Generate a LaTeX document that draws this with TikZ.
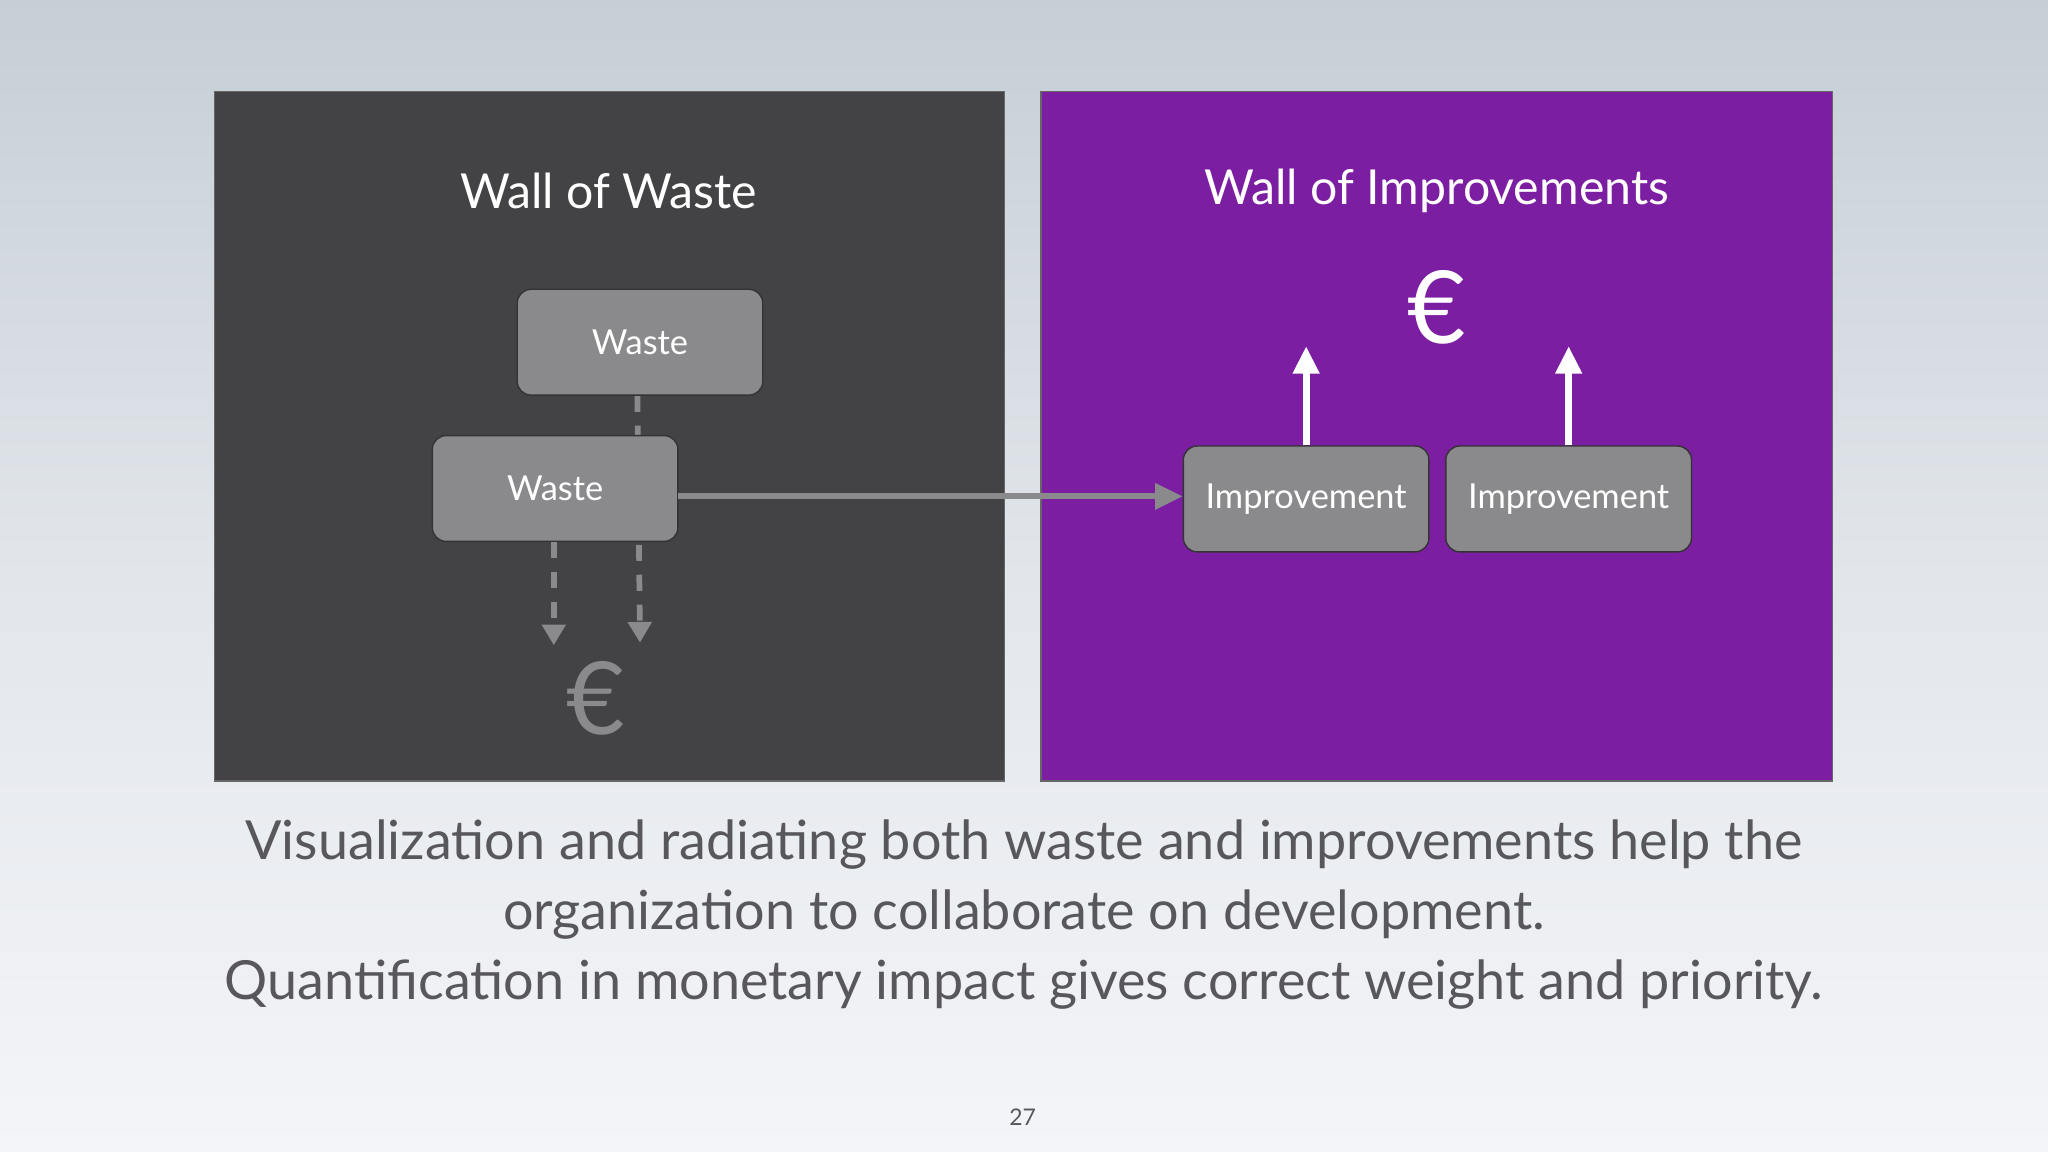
\documentclass[tikz,border=0pt]{standalone}
\usepackage{fontspec}
\setmainfont{Lato}
\usetikzlibrary{arrows.meta}
\definecolor{wallgray}{RGB}{67,67,69}
\definecolor{wallpurple}{RGB}{123,30,161}
\definecolor{boxgray}{RGB}{138,138,140}
\definecolor{capgray}{RGB}{88,88,92}
\tikzset{
  wbox/.style={draw=black!80,fill=boxgray,rounded corners=6pt,minimum width=188*0.02cm,minimum height=81*0.02cm,text=white,font=\fontsize{15}{18}\selectfont,line width=0.6pt},
  dashline/.style={draw=boxgray,dashed,dash pattern=on 7pt off 6pt,line width=2.5pt,-{Triangle[length=9pt,width=10pt]}},
}
\begin{document}
\begin{tikzpicture}[x=0.02cm,y=-0.02cm]
\shade[top color={rgb,255:red,198;green,206;blue,214},bottom color={rgb,255:red,244;green,245;blue,248},middle color={rgb,255:red,226;green,230;blue,235}] (0,0) rectangle (1568,882);
\useasboundingbox (0,0) rectangle (1568,882);
\fill[wallgray] (164,70) rectangle (769,598);
\draw[black!60,line width=0.5pt] (164,70) rectangle (769,598);
\fill[wallpurple] (797,70) rectangle (1403,598);
\draw[black!60,line width=0.5pt] (797,70) rectangle (1403,598);
\node[text=white,font=\fontsize{21}{26}\selectfont] (t1) at (466,146) {Wall of Waste};
\node[text=white,font=\fontsize{21}{26}\selectfont] (t2) at (1100,146) {Wall of Improvements};
\coordinate (d1s) at (488,303);
\coordinate (d1e) at (490,492);
\draw[dashline] (d1s) -- (d1e);
\node[wbox] (w1) at (490,262) {Waste};
\node[wbox] (w2) at (425,374) {Waste};
\coordinate (d2e) at (424,494);
\draw[dashline] (w2.south -| d2e) -- (d2e);
\node[text=boxgray,font=\fontsize{44}{48}\selectfont] (e1) at (456,535) {€};
\node[wbox] (i1) at (1000,382) {Improvement};
\node[wbox] (i2) at (1201,382) {Improvement};
\coordinate (hs) at (519,380);
\draw[boxgray,line width=2.5pt,-{Triangle[length=12pt,width=11pt]}] (hs) -- (hs -| i1.west);
\node[text=white,font=\fontsize{44}{48}\selectfont] (e2) at (1100,235) {€};
\coordinate (a1) at (1000,265);
\coordinate (a2) at (1201,265);
\draw[white,line width=3pt,-{Triangle[length=12pt,width=11pt]}] (i1.north) -- (a1);
\draw[white,line width=3pt,-{Triangle[length=12pt,width=11pt]}] (i2.north) -- (a2);
\node[text=capgray,font=\fontsize{23.5}{30.5}\selectfont,align=center] (cap) at (784,700) {Visualization and radiating both waste and improvements help the\\organization to collaborate on development.\\Quantification in monetary impact gives correct weight and priority.};
\node[text=capgray,font=\fontsize{10}{12}\selectfont] (pg) at (783,855) {27};
\end{tikzpicture}
\end{document}
